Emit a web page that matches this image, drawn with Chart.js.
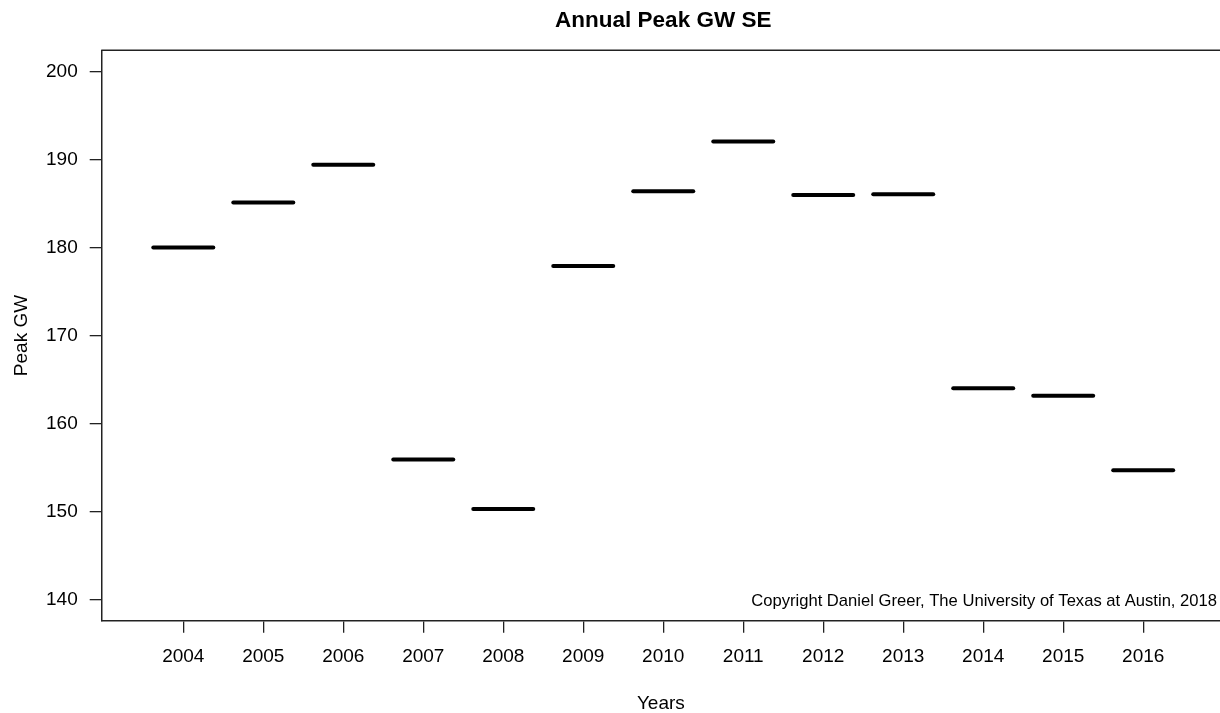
<!DOCTYPE html>
<html>
<head>
<meta charset="utf-8">
<script src="https://cdn.jsdelivr.net/npm/chart.js@4.4.1/dist/chart.umd.min.js"></script>
<style>
  html, body { margin: 0; background: #fff; }
</style>
</head>
<body>
<canvas id="peakChart" width="1220" height="713"></canvas>
<script>
// data
const years = ["2004", "2005", "2006", "2007", "2008", "2009", "2010", "2011", "2012", "2013", "2014", "2015", "2016"];
const peakGW = [180.0, 185.1, 189.4, 155.9, 150.3, 177.9, 186.4, 192.05, 185.95, 186.05, 164.0, 163.15, 154.7];
const yTicks = [140, 150, 160, 170, 180, 190, 200];
const yRange = [137.6, 202.4];
const xRange = [-0.02, 13.96];

const FONT = "'Liberation Sans', Arial, sans-serif";

// R style extras: title, top border, copyright note
const extras = {
  id: "extras",
  beforeDatasetsDraw(chart) {
    chart.ctx.lineCap = "round";
  },
  afterDraw(chart) {
    const { ctx, chartArea } = chart;
    ctx.save();
    ctx.strokeStyle = "#222";
    ctx.lineWidth = 1.5;
    ctx.beginPath();
    ctx.moveTo(chartArea.left, chartArea.top);
    ctx.lineTo(chartArea.right, chartArea.top);
    ctx.stroke();

    ctx.fillStyle = "#000";
    ctx.textBaseline = "middle";
    ctx.textAlign = "center";
    ctx.font = "bold 22.5px " + FONT;
    const x = chart.scales.x;
    const mid = x.getPixelForValue((xRange[0] + 14.02) / 2);
    ctx.fillText("Annual Peak GW SE", mid, 21);

    ctx.textAlign = "right";
    ctx.font = "16.6px " + FONT;
    ctx.fillText("Copyright Daniel Greer, The University of Texas at Austin, 2018", chartArea.right - 3, 601);
    ctx.restore();
  }
};

new Chart(document.getElementById("peakChart"), {
  type: "scatter",
  data: {
    datasets: [{
      data: peakGW.map((v, i) => ({ x: i + 1, y: v })),
      pointStyle: "line",
      pointRadius: 30,
      pointHoverRadius: 30,
      borderWidth: 4,
      borderColor: "#000",
      backgroundColor: "#000",
    }],
  },
  options: {
    responsive: false,
    animation: false,
    layout: { autoPadding: false, padding: { top: 50.3, left: 0, right: 0, bottom: 0 } },
    plugins: {
      legend: { display: false },
      tooltip: { enabled: false },
    },
    scales: {
      x: {
        type: "linear",
        min: xRange[0],
        max: xRange[1],
        afterFit: (s) => { s.height = 92.3; s.paddingLeft = 0; s.paddingRight = 0; },
        afterBuildTicks: (s) => { s.ticks = years.map((_, i) => ({ value: i + 1 })); },
        ticks: {
          callback: (v) => years[v - 1],
          autoSkip: false,
          maxRotation: 0,
          padding: 13,
          color: "#000",
          font: { family: FONT, size: 19 },
        },
        grid: { drawOnChartArea: false, drawTicks: true, tickLength: 12, color: "#222", lineWidth: 1.3 },
        border: { color: "#222", width: 1.5 },
        title: { display: true, text: "Years", color: "#000", font: { family: FONT, size: 19, lineHeight: 1.0 }, padding: { top: 0, bottom: 0 } },
      },
      y: {
        min: yRange[0],
        max: yRange[1],
        afterFit: (s) => { s.width = 101.7; },
        afterBuildTicks: (s) => { s.ticks = yTicks.map((v) => ({ value: v })); },
        ticks: {
          padding: 12,
          color: "#000",
          font: { family: FONT, size: 19 },
        },
        grid: { drawOnChartArea: false, drawTicks: true, tickLength: 12, color: "#222", lineWidth: 1.3 },
        border: { color: "#222", width: 1.5 },
        title: { display: true, text: "Peak GW", color: "#000", font: { family: FONT, size: 19 }, padding: { top: 10, bottom: 0 } },
      },
    },
  },
  plugins: [extras],
});
</script>
</body>
</html>
